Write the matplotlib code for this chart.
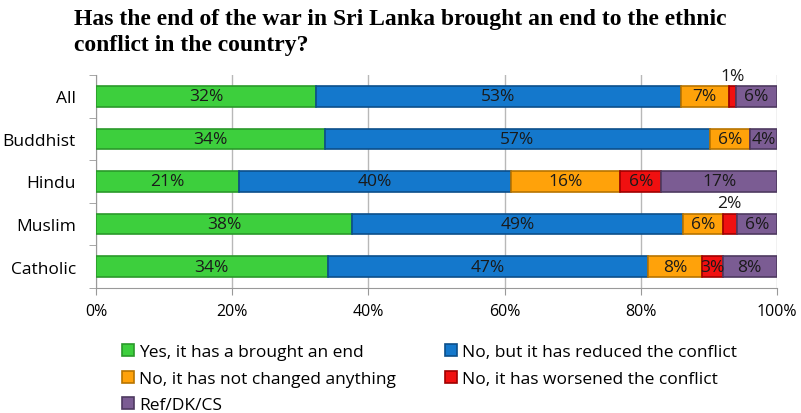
import matplotlib.pyplot as plt
import numpy as np

groups = ['All', 'Buddhist', 'Hindu', 'Muslim', 'Catholic']
answers = ['Yes, it has a brought an end',
           'No, but it has reduced the conflict',
           'No, it has not changed anything',
           'No, it has worsened the conflict',
           'Ref/DK/CS']
yes_end = [32, 34, 21, 38, 34]
reduced = [53, 57, 40, 49, 47]
unchanged = [7, 6, 16, 6, 8]
worsened = [1, 0, 6, 2, 3]
ref_dk = [6, 4, 17, 6, 8]
xticks = [0, 20, 40, 60, 80, 100]

colors = ['#3dcf3d', '#1478cc', '#ffa20a', '#f01010', '#7b5c93']
edges = ['#2a9a2a', '#0c4f8a', '#b87400', '#a00000', '#4e3a60']

plt.rcParams['font.family'] = ['Open Sans', 'DejaVu Sans']

fig = plt.figure(figsize=(8.01, 4.14), dpi=100)
ax = fig.add_axes([96 / 801, 1 - 289 / 414, 681 / 801, 213 / 414])

series = np.array([yes_end, reduced, unchanged, worsened, ref_dk], dtype=float)
shares = series / series.sum(axis=0) * 100   # 100% stacked
y = np.arange(len(groups))
left = np.zeros(len(groups))
handles = []
for i in range(len(answers)):
    h = ax.barh(y, shares[i], left=left, height=0.48, color=colors[i],
                edgecolor=edges[i], linewidth=1.2, label=answers[i], zorder=3)
    handles.append(h)
    for j in range(len(groups)):
        v = series[i, j]
        if v == 0:
            continue
        cx = left[j] + shares[i, j] / 2
        if v <= 2:
            # too thin for a label inside: put it above the bar
            ax.text(cx, y[j] - 0.3, f'{v:.0f}%', ha='center', va='bottom',
                    fontsize=12.5, color='#1a1a1a', zorder=4)
        else:
            ax.text(cx, y[j], f'{v:.0f}%', ha='center', va='center',
                    fontsize=12.5, color='#1a1a1a', zorder=4)
    left += shares[i]

ax.set_xlim(0, 100)
ax.set_ylim(4.5, -0.5)
ax.set_xticks(xticks)
ax.set_xticklabels([f'{t}%' for t in xticks], fontsize=11.5)
ax.set_yticks(y)
ax.set_yticklabels(groups, fontsize=12.5)
ax.set_yticks(np.arange(-0.5, 4.6, 1), minor=True)
ax.tick_params(axis='y', which='major', length=0, pad=14.5)
ax.tick_params(axis='y', which='minor', length=5, color='#999999')
ax.tick_params(axis='x', length=5, color='#999999', pad=6)
ax.grid(axis='x', color='#b8b8b8', linewidth=1, zorder=0)
for s in ['top', 'right']:
    ax.spines[s].set_visible(False)
for s in ['left', 'bottom']:
    ax.spines[s].set_color('#999999')

title_kw = dict(fontfamily='Liberation Serif', fontweight='bold', fontsize=17,
                va='center', ha='left')
fig.text(74 / 801, 1 - 19 / 414,
         'Has the end of the war in Sri Lanka brought an end to the ethnic', **title_kw)
fig.text(74 / 801, 1 - 46 / 414, 'conflict in the country?', **title_kw)

# two legend columns, filled row by row
leg_kw = dict(loc='upper left', frameon=False, fontsize=12.5, handlelength=0.7,
              handleheight=0.7, handletextpad=0.3, labelspacing=0.6,
              borderpad=0, borderaxespad=0)
fig.legend([handles[k] for k in (0, 2, 4)], [answers[k] for k in (0, 2, 4)],
           bbox_to_anchor=(122 / 801, 1 - 345 / 414), **leg_kw)
fig.legend([handles[k] for k in (1, 3)], [answers[k] for k in (1, 3)],
           bbox_to_anchor=(445 / 801, 1 - 345 / 414), **leg_kw)

fig.savefig('out.png', dpi=100)
